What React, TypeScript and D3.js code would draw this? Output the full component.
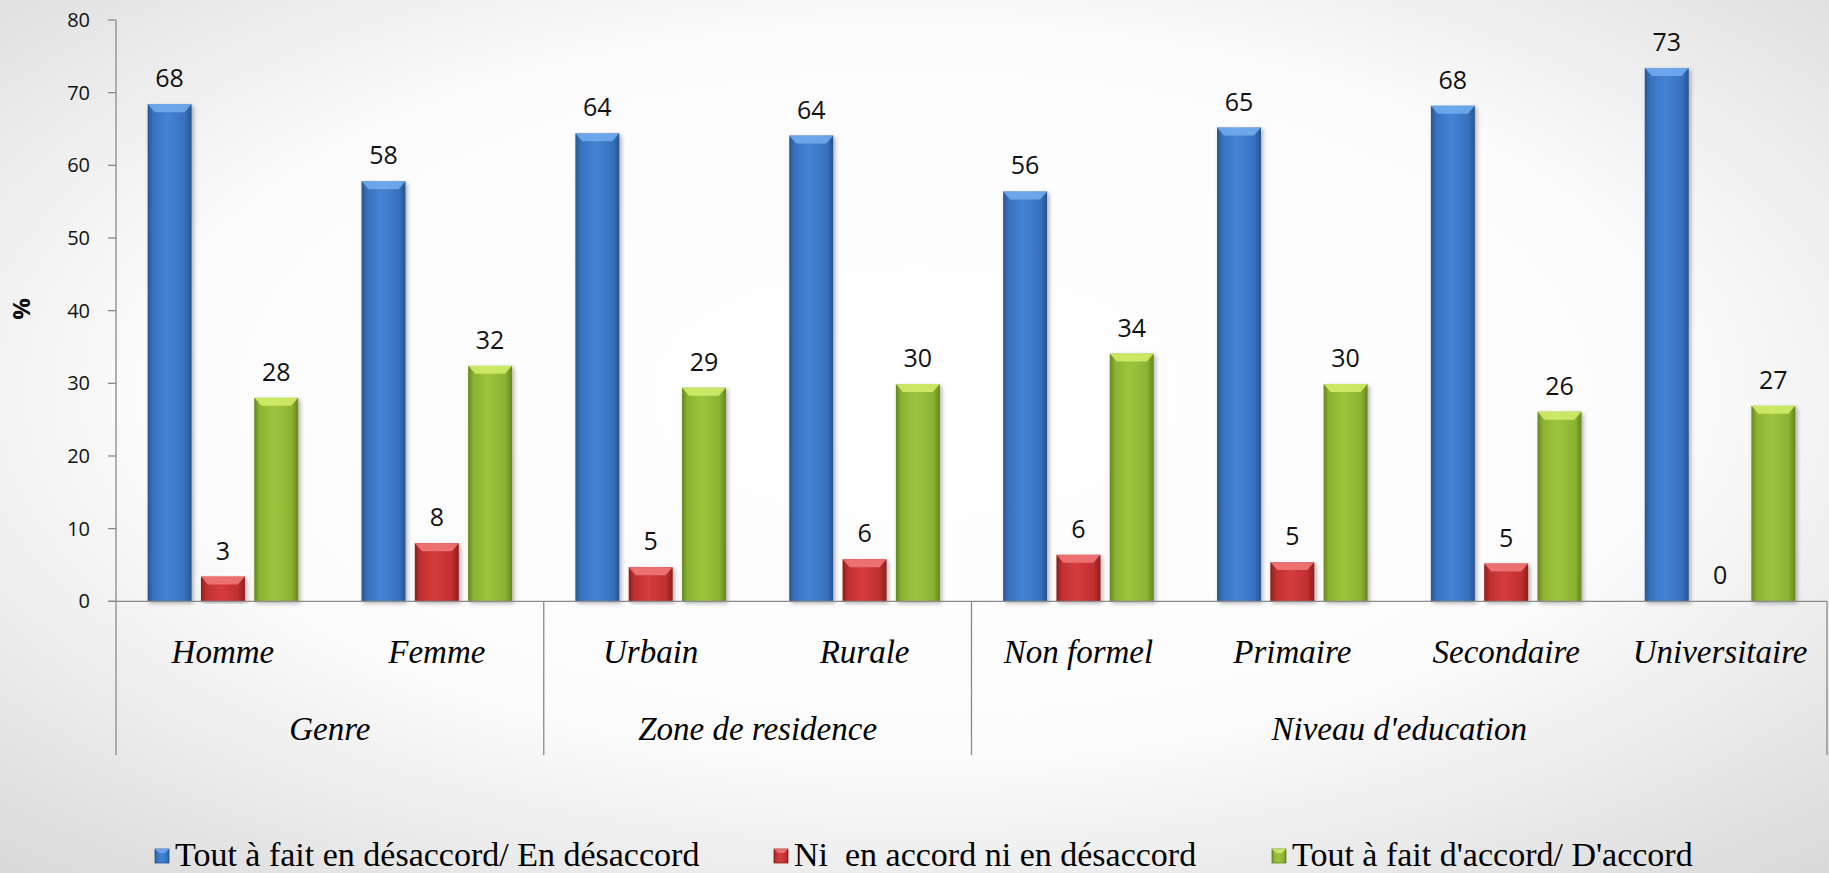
import React from 'react';
import * as d3 from 'd3';

const categories = ['Homme', 'Femme', 'Urbain', 'Rurale', 'Non formel', 'Primaire', 'Secondaire', 'Universitaire'];
const groupNames = ['Genre', 'Zone de residence', "Niveau d'education"];
const groupSizes = [2, 2, 4];
const seriesNames = ['Tout à fait en désaccord/ En désaccord', 'Ni  en accord ni en désaccord', "Tout à fait d'accord/ D'accord"];
const desaccord = [68.4, 57.8, 64.4, 64.1, 56.4, 65.2, 68.2, 73.4];
const neutre = [3.4, 8.0, 4.7, 5.8, 6.4, 5.4, 5.2, 0];
const accord = [28.0, 32.4, 29.4, 29.9, 34.1, 29.9, 26.1, 26.9];
const yTicks = [0, 10, 20, 30, 40, 50, 60, 70, 80];

const W = 1829;
const H = 873;
const LEFT = 116;
const RIGHT = 1827;
const TOP = 20;
const BASE = 601.3;
const AXIS_BOTTOM = 755;
const GROUP_W = 150.6;

const styles = [
  { id: 'blue', dark: '#28548f', mid: '#3771bd', light: '#4384d4', bevel: '#74aef0' },
  { id: 'red', dark: '#8c1e1e', mid: '#bf2f2f', light: '#d63c3c', bevel: '#f27a7a' },
  { id: 'green', dark: '#66861f', mid: '#8bb232', light: '#9dc63d', bevel: '#d6ee6c' },
];

export default function App() {
  const series = [desaccord, neutre, accord];
  const x0 = d3.scaleBand<string>().domain(categories).range([LEFT, RIGHT]).padding(0);
  const bw = x0.bandwidth();
  const x1 = d3
    .scaleBand<number>()
    .domain([0, 1, 2])
    .range([(bw - GROUP_W) / 2, (bw + GROUP_W) / 2])
    .paddingInner(0.175)
    .paddingOuter(0);
  const y = d3.scaleLinear().domain([0, 80]).range([BASE, TOP]);
  const fmt = d3.format('.0f');

  const bounds: number[] = [];
  const groupCenters: number[] = [];
  let idx = 0;
  groupSizes.forEach((n) => {
    const start = x0(categories[idx])!;
    const end = idx + n < categories.length ? x0(categories[idx + n])! : RIGHT;
    bounds.push(start);
    groupCenters.push((start + end) / 2);
    idx += n;
  });
  bounds.push(RIGHT);

  const legendX = [155, 774, 1272];

  return (
    <svg width={W} height={H} style={{ position: 'absolute', left: 0, top: 0 }}>
      <defs>
        <radialGradient id="bg" cx="50%" cy="45%" r="75%">
          <stop offset="0" stopColor="#ffffff" />
          <stop offset="0.55" stopColor="#fcfcfc" />
          <stop offset="1" stopColor="#d8d8d8" />
        </radialGradient>
        {styles.map((s) => (
          <linearGradient key={s.id} id={`g-${s.id}`} x1="0" y1="0" x2="1" y2="0">
            <stop offset="0" stopColor={s.dark} />
            <stop offset="0.12" stopColor={s.mid} />
            <stop offset="0.45" stopColor={s.light} />
            <stop offset="0.85" stopColor={s.mid} />
            <stop offset="1" stopColor={s.dark} />
          </linearGradient>
        ))}
        <filter id="shadow" x="-20%" y="-5%" width="150%" height="115%">
          <feDropShadow dx="2" dy="2" stdDeviation="2" floodColor="#000" floodOpacity="0.3" />
        </filter>
      </defs>
      <rect x={0} y={0} width={W} height={H} fill="url(#bg)" />

      {/* y axis */}
      <line x1={LEFT} x2={LEFT} y1={TOP} y2={AXIS_BOTTOM} stroke="#8a8a8a" strokeWidth={1.3} />
      {yTicks.map((t) => (
        <g key={t}>
          <line x1={LEFT - 8} x2={LEFT} y1={y(t)} y2={y(t)} stroke="#8a8a8a" strokeWidth={1.3} />
          <text x={90} y={y(t)} dy="0.35em" textAnchor="end" fontFamily="Open Sans" fontSize={20} fill="#111">
            {t}
          </text>
        </g>
      ))}
      <text
        transform={`translate(30, 309) rotate(-90)`}
        textAnchor="middle"
        fontFamily="Open Sans"
        fontSize={24}
        fontWeight="bold"
        fill="#111"
      >
        %
      </text>

      {/* bars */}
      {categories.map((c, i) => (
        <g key={c} transform={`translate(${x0(c)},0)`}>
          {series.map((vals, s) => {
            const v = vals[i];
            const bx = x1(s)!;
            const w = x1.bandwidth();
            const top = y(v);
            const h = BASE - top;
            const st = styles[s];
            const bev = Math.min(8, h);
            return (
              <g key={s}>
                {h > 0 && (
                  <g filter="url(#shadow)">
                    <rect x={bx} y={top} width={w} height={h} fill={`url(#g-${st.id})`} />
                    <polygon
                      points={`${bx},${top} ${bx + w},${top} ${bx + w - 7},${top + bev} ${bx + 7},${top + bev}`}
                      fill={st.bevel}
                      opacity={0.85}
                    />
                  </g>
                )}
                <text x={bx + w / 2} y={top - 17} textAnchor="middle" fontFamily="Open Sans" fontSize={25} fill="#111">
                  {fmt(v)}
                </text>
              </g>
            );
          })}
        </g>
      ))}

      {/* x axis */}
      <line x1={LEFT - 8} x2={RIGHT} y1={BASE} y2={BASE} stroke="#8a8a8a" strokeWidth={1.3} />
      {bounds.slice(1).map((bx, i) => (
        <line key={i} x1={bx} x2={bx} y1={BASE} y2={AXIS_BOTTOM} stroke="#8a8a8a" strokeWidth={1.3} />
      ))}
      {categories.map((c) => (
        <text
          key={c}
          x={x0(c)! + bw / 2}
          y={663}
          textAnchor="middle"
          fontFamily="Liberation Serif"
          fontStyle="italic"
          fontSize={33}
          fill="#000"
        >
          {c}
        </text>
      ))}
      {groupNames.map((g, i) => (
        <text
          key={g}
          x={groupCenters[i]}
          y={740}
          textAnchor="middle"
          fontFamily="Liberation Serif"
          fontStyle="italic"
          fontSize={33}
          fill="#000"
        >
          {g}
        </text>
      ))}

      {/* legend */}
      {seriesNames.map((n, i) => {
        const st = styles[i];
        return (
          <g key={n} transform={`translate(${legendX[i]},0)`}>
            <rect x={0} y={849} width={14} height={14} fill={`url(#g-${st.id})`} stroke={st.dark} strokeWidth={0.8} />
            <polygon points="0,849 14,849 10,853 4,853" fill={st.bevel} opacity={0.8} />
            <text x={20} y={866} fill="#000" fontFamily="Liberation Serif" fontSize={34} style={{ whiteSpace: 'pre' }}>
              {n}
            </text>
          </g>
        );
      })}
    </svg>
  );
}
